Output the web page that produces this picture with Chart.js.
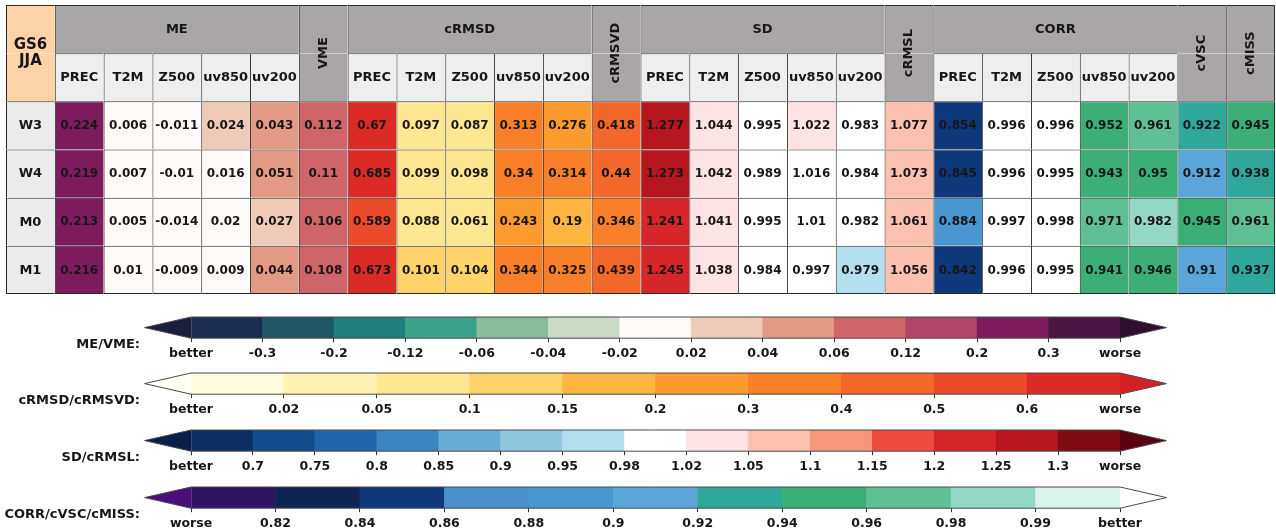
<!DOCTYPE html>
<html>
<head>
<meta charset="utf-8">
<script src="https://cdn.jsdelivr.net/npm/chart.js@4.4.1/dist/chart.umd.min.js"></script>
<style>
  html, body { margin: 0; padding: 0; background: #ffffff; width: 1276px; height: 531px; overflow: hidden; }
  canvas { position: absolute; left: 0; }
</style>
</head>
<body>
<canvas id="table" width="1276" height="300" style="top:0px"></canvas>
<canvas id="cbME" width="1276" height="50" style="top:314px"></canvas>
<canvas id="cbRMSD" width="1276" height="50" style="top:370px"></canvas>
<canvas id="cbSD" width="1276" height="50" style="top:427px"></canvas>
<canvas id="cbCORR" width="1276" height="50" style="top:484px"></canvas>
<script>
// ---- scorecard data: one inner array per lead (row), ordered like `variables` ----
const title = ['GS6', 'JJA'];
const rows = ['W3', 'W4', 'M0', 'M1'];
const variables = ['PREC', 'T2M', 'Z500', 'uv850', 'uv200'];

const ME = [
  [0.224, 0.006, -0.011, 0.024, 0.043],
  [0.219, 0.007, -0.01, 0.016, 0.051],
  [0.213, 0.005, -0.014, 0.02, 0.027],
  [0.216, 0.01, -0.009, 0.009, 0.044]
];
const VME = [0.112, 0.11, 0.106, 0.108];
const cRMSD = [
  [0.67, 0.097, 0.087, 0.313, 0.276],
  [0.685, 0.099, 0.098, 0.34, 0.314],
  [0.589, 0.088, 0.061, 0.243, 0.19],
  [0.673, 0.101, 0.104, 0.344, 0.325]
];
const cRMSVD = [0.418, 0.44, 0.346, 0.439];
const SD = [
  [1.277, 1.044, 0.995, 1.022, 0.983],
  [1.273, 1.042, 0.989, 1.016, 0.984],
  [1.241, 1.041, 0.995, 1.01, 0.982],
  [1.245, 1.038, 0.984, 0.997, 0.979]
];
const cRMSL = [1.077, 1.073, 1.061, 1.056];
const CORR = [
  [0.854, 0.996, 0.996, 0.952, 0.961],
  [0.845, 0.996, 0.995, 0.943, 0.95],
  [0.884, 0.997, 0.998, 0.971, 0.982],
  [0.842, 0.996, 0.995, 0.941, 0.946]
];
const cVSC = [0.922, 0.912, 0.945, 0.91];
const cMISS = [0.945, 0.938, 0.961, 0.937];

// ---- colour scales: interior bin edges, tick labels along the bar, bin colours ----
const meEdges = [-0.3, -0.2, -0.12, -0.06, -0.04, -0.02, 0.02, 0.04, 0.06, 0.12, 0.2, 0.3];
const meTicks = ['better', '-0.3', '-0.2', '-0.12', '-0.06', '-0.04', '-0.02', '0.02', '0.04', '0.06', '0.12', '0.2', '0.3', 'worse'];
const meColours = ['#1c2c50', '#1f5566', '#1f7f7a', '#3aa28a', '#89bc9c', '#cbdac6', '#fdfaf7',
                   '#efcab6', '#e39a84', '#d06569', '#b14468', '#7e1b5d', '#4b1541'];

const rmsdEdges = [0.02, 0.05, 0.1, 0.15, 0.2, 0.3, 0.4, 0.5, 0.6];
const rmsdTicks = ['better', '0.02', '0.05', '0.1', '0.15', '0.2', '0.3', '0.4', '0.5', '0.6', 'worse'];
const rmsdColours = ['#fffcde', '#fff2b3', '#fee791', '#fed369', '#feb640', '#fd9b2e', '#f98029',
                     '#f4672b', '#eb4b29', '#dc2b27'];

const sdEdges = [0.7, 0.75, 0.8, 0.85, 0.9, 0.95, 0.98, 1.02, 1.05, 1.1, 1.15, 1.2, 1.25, 1.3];
const sdTicks = ['better', '0.7', '0.75', '0.8', '0.85', '0.9', '0.95', '0.98', '1.02', '1.05', '1.1', '1.15', '1.2', '1.25', '1.3', 'worse'];
const sdColours = ['#0b2d5f', '#124c8b', '#2166ac', '#3a85c2', '#69acd5', '#90c5df', '#b3e0ee', '#ffffff',
                   '#fde3e4', '#fcc1ae', '#f8957a', '#ef4b3f', '#d6262a', '#b7161f', '#7e0b13'];

const corrEdges = [0.82, 0.84, 0.86, 0.88, 0.9, 0.92, 0.94, 0.96, 0.98, 0.99];
const corrTicks = ['worse', '0.82', '0.84', '0.86', '0.88', '0.9', '0.92', '0.94', '0.96', '0.98', '0.99', 'better'];
const corrColours = ['#2e1463', '#0e2553', '#0f387a', '#4a8ecb', '#4897d0', '#5ba6d8', '#2fa89b',
                     '#3caf78', '#5fc095', '#93d8c4', '#d8f3ec'];

const scales = {
  me:   { title: 'ME/VME:',          edges: meEdges,   ticks: meTicks,   colours: meColours,   under: '#1b1e3f', over: '#2e0f2f' },
  rmsd: { title: 'cRMSD/cRMSVD:',    edges: rmsdEdges, ticks: rmsdTicks, colours: rmsdColours, under: '#fffff2', over: '#d42024' },
  sd:   { title: 'SD/cRMSL:',        edges: sdEdges,   ticks: sdTicks,   colours: sdColours,   under: '#081f4a', over: '#5b0411' },
  corr: { title: 'CORR/cVSC/cMISS:', edges: corrEdges, ticks: corrTicks, colours: corrColours, under: '#4a0e78', over: '#ffffff', overFrom: 0.995 }
};

function binColour(sc, v) {
  if (sc.overFrom !== undefined && v >= sc.overFrom) return sc.over;
  let i = 0;
  while (i < sc.edges.length && v > sc.edges[i]) i++;
  return sc.colours[i];
}

// ---- table layout ----
const tableColumns = [
  { name: 'ME', data: ME, scale: 'me' },
  { name: 'VME', data: VME, scale: 'me' },
  { name: 'cRMSD', data: cRMSD, scale: 'rmsd' },
  { name: 'cRMSVD', data: cRMSVD, scale: 'rmsd' },
  { name: 'SD', data: SD, scale: 'sd' },
  { name: 'cRMSL', data: cRMSL, scale: 'sd' },
  { name: 'CORR', data: CORR, scale: 'corr' },
  { name: 'cVSC', data: cVSC, scale: 'corr' },
  { name: 'cMISS', data: cMISS, scale: 'corr' }
];

const FONT = "'DejaVu Sans', sans-serif";
Chart.defaults.font.family = FONT;

const GROUP_ROW = 'group', FIELD_ROW = 'field';
const yLabels = [GROUP_ROW, FIELD_ROW, ...rows];
const CORNER_BG = '#fdd3aa', GROUP_BG = '#a9a6a8', FIELD_BG = '#eeeeee', ROWHEAD_BG = '#ebebeb';

const nCols = 1 + tableColumns.reduce((n, c) => n + (Array.isArray(c.data[0]) ? variables.length : 1), 0);
const edge = (left, top, right, bottom) => ({ left, top, right, bottom });

const cells = [];
cells.push({ x: [0, 1], y: GROUP_ROW, bg: CORNER_BG, bw: edge(1, 1, 0, 0), text: title, kind: 'corner' });
cells.push({ x: [0, 1], y: FIELD_ROW, bg: CORNER_BG, bw: edge(1, 0, 0, 0) });
rows.forEach((r, ri) => cells.push({
  x: [0, 1], y: r, bg: ROWHEAD_BG, bw: edge(1, 1, 0, ri === rows.length - 1 ? 1 : 0), text: r, kind: 'rowhead'
}));

let col = 1;
tableColumns.forEach(tc => {
  const multi = Array.isArray(tc.data[0]);
  const w = multi ? variables.length : 1;
  const rightEdge = (c) => (c === nCols - 1 ? 1 : 0);
  if (multi) {
    cells.push({ x: [col, col + w], y: GROUP_ROW, bg: GROUP_BG, bw: edge(1, 1, rightEdge(col + w - 1), 0), text: tc.name, kind: 'group' });
    variables.forEach((v, vi) => cells.push({
      x: [col + vi, col + vi + 1], y: FIELD_ROW, bg: FIELD_BG, bw: edge(1, 1, rightEdge(col + vi), 0), text: v, kind: 'field'
    }));
  } else {
    cells.push({ x: [col, col + 1], y: GROUP_ROW, bg: GROUP_BG, bw: edge(1, 1, rightEdge(col), 0), text: tc.name, kind: 'vertical' });
    cells.push({ x: [col, col + 1], y: FIELD_ROW, bg: GROUP_BG, bw: edge(1, 0, rightEdge(col), 0) });
  }
  rows.forEach((r, ri) => {
    const vals = multi ? tc.data[ri] : [tc.data[ri]];
    vals.forEach((v, k) => {
      const c = col + k;
      cells.push({
        x: [c, c + 1], y: r, bg: binColour(scales[tc.scale], v),
        bw: edge(1, 1, rightEdge(c), ri === rows.length - 1 ? 1 : 0),
        text: String(v), kind: 'value'
      });
    });
  });
  col += w;
});

// writes the cell texts at the centre of each bar
const cellText = {
  id: 'cellText',
  afterDatasetsDraw(chart) {
    const ctx = chart.ctx;
    const meta = chart.getDatasetMeta(0);
    const data = chart.data.datasets[0].data;
    ctx.save();
    ctx.textAlign = 'center';
    ctx.textBaseline = 'middle';
    ctx.fillStyle = '#161616';
    meta.data.forEach((el, i) => {
      const cell = data[i];
      if (!cell.text) return;
      const c = el.getCenterPoint();
      if (cell.kind === 'corner') {
        const cy = el.y + el.height / 2;
        ctx.font = `bold 15px ${FONT}`;
        ctx.fillText(cell.text[0], c.x, cy - 8);
        ctx.fillText(cell.text[1], c.x, cy + 8);
      } else if (cell.kind === 'vertical') {
        const cy = el.y + el.height / 2;
        ctx.save();
        ctx.translate(c.x, cy);
        ctx.rotate(-Math.PI / 2);
        ctx.font = `bold 13px ${FONT}`;
        ctx.fillText(cell.text, 0, 0);
        ctx.restore();
      } else if (cell.kind === 'value') {
        ctx.font = `bold 12px ${FONT}`;
        ctx.fillText(cell.text, c.x, c.y + 0.5);
      } else {
        ctx.font = `bold 13px ${FONT}`;
        ctx.fillText(cell.text, c.x, c.y + 0.5);
      }
    });
    ctx.restore();
  }
};

new Chart(document.getElementById('table'), {
  type: 'bar',
  data: {
    labels: yLabels,
    datasets: [{
      data: cells,
      backgroundColor: (c) => (c.raw ? c.raw.bg : '#ffffff'),
      borderWidth: (c) => (c.raw ? c.raw.bw : 0),
      borderColor: '#2a2a2a',
      borderSkipped: false,
      inflateAmount: 0,
      grouped: false,
      barPercentage: 1,
      categoryPercentage: 1
    }]
  },
  options: {
    indexAxis: 'y',
    responsive: false,
    animation: false,
    events: [],
    layout: { padding: { left: 6, right: 1, top: 5, bottom: 6 } },
    plugins: { legend: { display: false }, tooltip: { enabled: false } },
    scales: {
      x: { type: 'linear', min: 0, max: nCols, display: false },
      y: { type: 'category', labels: yLabels, offset: true, display: false }
    }
  },
  plugins: [cellText]
});

// extension triangles, outline and title of a colour bar
const barEnds = {
  id: 'barEnds',
  afterDatasetsDraw(chart, args, opts) {
    const sc = opts.scale;
    const ctx = chart.ctx;
    const xs = chart.scales.x;
    const x0 = xs.getPixelForValue(xs.min), x1 = xs.getPixelForValue(xs.max);
    const { top, bottom } = chart.chartArea;
    const mid = (top + bottom) / 2;
    const ext = 0.05 * (x1 - x0);
    ctx.save();
    ctx.beginPath();
    ctx.moveTo(x0, top); ctx.lineTo(x0 - ext, mid); ctx.lineTo(x0, bottom); ctx.closePath();
    ctx.fillStyle = sc.under; ctx.fill();
    ctx.beginPath();
    ctx.moveTo(x1, top); ctx.lineTo(x1 + ext, mid); ctx.lineTo(x1, bottom); ctx.closePath();
    ctx.fillStyle = sc.over; ctx.fill();
    ctx.beginPath();
    ctx.moveTo(x0 - ext, mid); ctx.lineTo(x0, top); ctx.lineTo(x1, top); ctx.lineTo(x1 + ext, mid);
    ctx.lineTo(x1, bottom); ctx.lineTo(x0, bottom); ctx.closePath();
    ctx.strokeStyle = '#4a4a4a'; ctx.lineWidth = 1; ctx.stroke();
    ctx.font = `bold 13px ${FONT}`;
    ctx.fillStyle = '#161616';
    ctx.textAlign = 'right';
    ctx.textBaseline = 'middle';
    ctx.fillText(sc.title, 140, bottom + 6);
    ctx.restore();
  }
};

function colourBar(id, sc) {
  const n = sc.colours.length;
  const segments = sc.colours.map((_, i) => ({ x: [i, i + 1], y: 'bar' }));
  new Chart(document.getElementById(id), {
    type: 'bar',
    data: {
      labels: ['bar'],
      datasets: [{
        data: segments,
        backgroundColor: sc.colours,
        borderWidth: 0,
        grouped: false,
        barPercentage: 1,
        categoryPercentage: 1
      }]
    },
    options: {
      indexAxis: 'y',
      responsive: false,
      animation: false,
      events: [],
      layout: { padding: { left: 191, right: 156, top: 3, bottom: 4.6 } },
      plugins: { legend: { display: false }, tooltip: { enabled: false }, barEnds: { scale: sc } },
      scales: {
        x: {
          type: 'linear', min: 0, max: n, position: 'bottom',
          border: { display: false },
          grid: { display: true, drawOnChartArea: false, drawTicks: true, tickLength: 4, color: '#333333', lineWidth: 1 },
          ticks: {
            stepSize: 1, autoSkip: false, maxRotation: 0, padding: 4, color: '#161616',
            font: { family: FONT, weight: 'bold', size: 12.5 },
            callback: (v) => sc.ticks[Math.round(v)]
          }
        },
        y: { type: 'category', labels: ['bar'], offset: true, display: false }
      }
    },
    plugins: [barEnds]
  });
}

colourBar('cbME', scales.me);
colourBar('cbRMSD', scales.rmsd);
colourBar('cbSD', scales.sd);
colourBar('cbCORR', scales.corr);
</script>
</body>
</html>
